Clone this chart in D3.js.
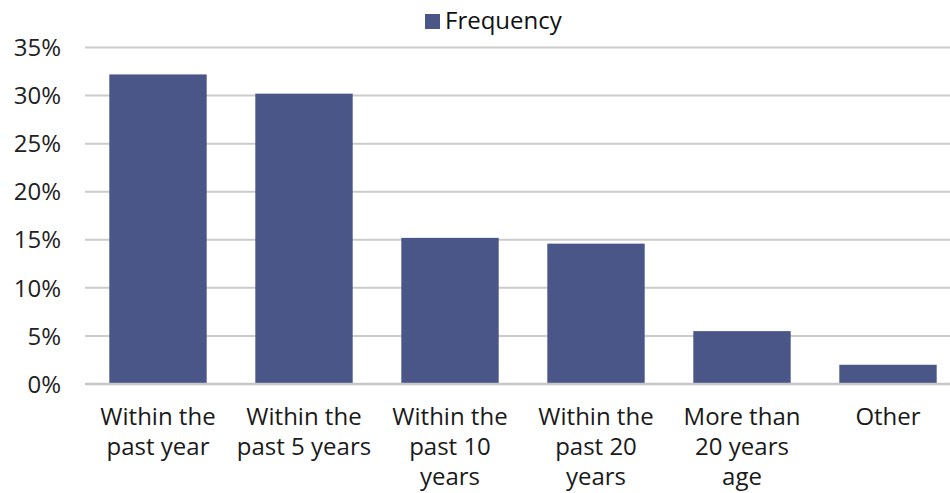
<!DOCTYPE html>
<html>
<head>
<meta charset="utf-8">
<script src="https://cdn.jsdelivr.net/npm/d3@7"></script>
<style>
  html, body { margin: 0; padding: 0; background: #fff; }
  svg { display: block; font-family: "Open Sans", "Noto Sans", sans-serif; }
</style>
</head>
<body>
<svg id="chart" width="950" height="493"></svg>
<script>
// Categories (each label split into its display lines)
const categories = [
  "Within the past year",
  "Within the past 5 years",
  "Within the past 10 years",
  "Within the past 20 years",
  "More than 20 years age",
  "Other"
];
const categoryLines = [
  ["Within the", "past year"],
  ["Within the", "past 5 years"],
  ["Within the", "past 10", "years"],
  ["Within the", "past 20", "years"],
  ["More than", "20 years", "age"],
  ["Other"]
];
const seriesName = "Frequency";
const frequency = [0.322, 0.302, 0.152, 0.146, 0.055, 0.020];
const yTicks = [0, 0.05, 0.10, 0.15, 0.20, 0.25, 0.30, 0.35];

const svg = d3.select("#chart");
const W = 950;
const barColor = "#4a5688";

const x = d3.scaleBand()
  .domain(categories)
  .range([85, 961])
  .paddingInner(0.333)
  .paddingOuter(0.1665);

const y = d3.scaleLinear()
  .domain([0, 0.35])
  .range([384, 47.5]);

// Horizontal gridlines
svg.append("g")
  .selectAll("line")
  .data(yTicks)
  .join("line")
  .attr("x1", 85)
  .attr("x2", W)
  .attr("y1", d => y(d))
  .attr("y2", d => y(d))
  .attr("stroke", "#cbcbcb")
  .attr("stroke-width", 2);

// Y axis labels
const yAxis = d3.axisLeft(y)
  .tickValues(yTicks)
  .tickFormat(d3.format(".0%"))
  .tickSize(0)
  .tickPadding(0);

const yg = svg.append("g")
  .attr("transform", "translate(61,0)")
  .call(yAxis);
yg.select(".domain").remove();
yg.selectAll("text")
  .attr("font-size", 24)
  .attr("font-family", "'Open Sans', 'Noto Sans', sans-serif")
  .attr("fill", "#222")
  .attr("dy", "0.34em");

// Bars
svg.append("g")
  .selectAll("rect")
  .data(frequency)
  .join("rect")
  .attr("x", (d, i) => x(categories[i]))
  .attr("width", x.bandwidth())
  .attr("y", d => y(d))
  .attr("height", d => y(0) - y(d))
  .attr("fill", barColor);

// Baseline
svg.append("line")
  .attr("x1", 85).attr("x2", W)
  .attr("y1", y(0)).attr("y2", y(0))
  .attr("stroke", "#c6c6c6")
  .attr("stroke-width", 2.5);

// Category labels (multi-line)
const xl = svg.append("g")
  .selectAll("text")
  .data(categories)
  .join("text")
  .attr("x", d => x(d) + x.bandwidth() / 2)
  .attr("y", 425)
  .attr("text-anchor", "middle")
  .attr("font-size", 24)
  .attr("fill", "#1a1a1a");
xl.each(function(d, i) {
  d3.select(this).selectAll("tspan")
    .data(categoryLines[i])
    .join("tspan")
    .attr("x", x(d) + x.bandwidth() / 2)
    .attr("dy", (t, j) => j === 0 ? 0 : 30)
    .text(t => t);
});

// Legend
const legend = svg.append("g");
legend.append("rect")
  .attr("x", 425).attr("y", 14)
  .attr("width", 15).attr("height", 15)
  .attr("fill", barColor);
legend.append("text")
  .attr("x", 445).attr("y", 29)
  .attr("font-size", 24)
  .attr("fill", "#111")
  .text(seriesName);
</script>
</body>
</html>
